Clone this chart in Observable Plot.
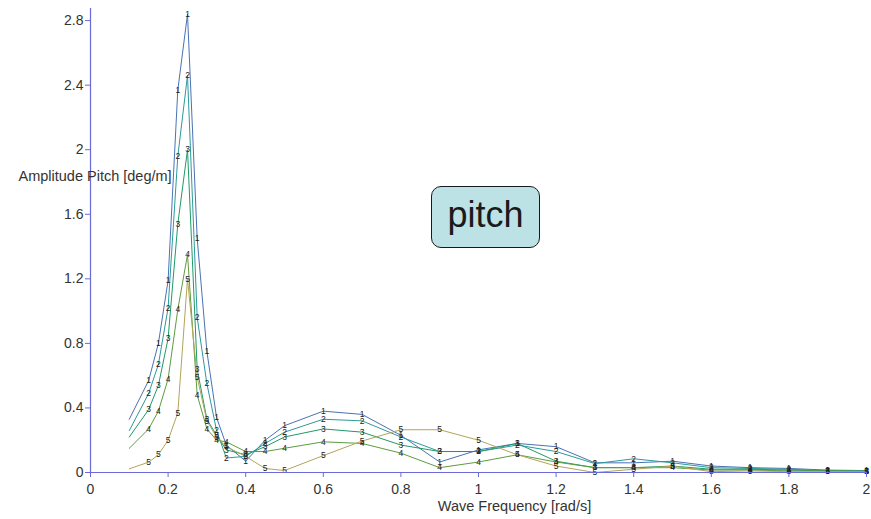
<!DOCTYPE html>
<html>
<head>
<meta charset="utf-8">
<script src="https://cdn.jsdelivr.net/npm/d3@7"></script>
<script src="https://cdn.jsdelivr.net/npm/@observablehq/plot@0.6"></script>
<style>
  html, body { margin: 0; padding: 0; background: #fff; }
  #wrap { position: relative; width: 871px; height: 519px; }
  #box {
    position: absolute; left: 431px; top: 186px; width: 109px; height: 62px;
    background: #bde2e5; border: 1.6px solid #1a1a1a; border-radius: 10px;
    font-family: "Liberation Sans", Arial, sans-serif; font-size: 36px; color: #1a1a1a;
    display: flex; align-items: center; justify-content: center; box-sizing: border-box;
    padding-bottom: 4px;
  }
</style>
</head>
<body>
<div id="wrap"></div>
<script>
const freq = [0.1,0.15,0.175,0.2,0.225,0.25,0.275,0.3,0.325,0.35,0.4,0.45,0.5,0.6,0.7,0.8,0.9,1.0,1.1,1.2,1.3,1.4,1.5,1.6,1.7,1.8,1.9,2.0];
const series1 = [0.33,0.57,0.80,1.19,2.37,2.84,1.45,0.75,0.34,0.17,0.07,0.20,0.29,0.38,0.36,0.23,0.065,0.14,0.18,0.16,0.06,0.06,0.07,0.04,0.03,0.025,0.015,0.012];
const series2 = [0.26,0.49,0.67,1.02,1.96,2.46,0.96,0.55,0.26,0.09,0.10,0.18,0.25,0.33,0.32,0.22,0.13,0.13,0.17,0.13,0.055,0.085,0.06,0.03,0.025,0.02,0.012,0.01];
const series3 = [0.22,0.39,0.54,0.83,1.54,2.00,0.64,0.33,0.23,0.14,0.11,0.16,0.22,0.27,0.25,0.17,0.13,0.13,0.18,0.07,0.03,0.03,0.04,0.02,0.02,0.015,0.01,0.008];
const series4 = [0.15,0.27,0.38,0.58,1.01,1.35,0.48,0.27,0.20,0.19,0.13,0.13,0.15,0.19,0.18,0.12,0.03,0.065,0.11,0.065,0.03,0.03,0.03,0.015,0.015,0.01,0.01,0.008];
const series5 = [0.023,0.064,0.11,0.20,0.37,1.20,0.59,0.32,0.22,0.16,0.10,0.025,0.012,0.105,0.195,0.265,0.265,0.20,0.11,0.04,0.0,0.02,0.04,0.005,0.01,0.005,0.005,0.005];
const seriesNames = ["1","2","3","4","5"];
const seriesColors = ["#4a72b2","#2c9a9c","#1f9a66","#5e9c3e","#b3a45a"];
const xTicks = [0,0.2,0.4,0.6,0.8,1,1.2,1.4,1.6,1.8,2];
const yTicks = [0,0.4,0.8,1.2,1.6,2,2.4,2.8];
const xLabel = "Wave Frequency [rad/s]";
const yLabel = "Amplitude Pitch [deg/m]";
const boxText = "pitch";

const allSeries = [series1, series2, series3, series4, series5];
const data = [];
allSeries.forEach((vals, si) => {
  vals.forEach((v, i) => data.push({f: freq[i], v, s: seriesNames[si], i}));
});
const labelData = data.filter(d => d.i > 0);
const axisColor = "#6a6ad8";
const fmt = d => String(+d.toFixed(1));

const chart = Plot.plot({
  width: 871,
  height: 519,
  marginLeft: 90,
  marginRight: 5,
  marginTop: 8,
  marginBottom: 47,
  style: {fontFamily: "'Liberation Sans', Arial, sans-serif", background: "#fff"},
  x: {domain: [0, 2]},
  y: {domain: [0, 2.875]},
  color: {domain: seriesNames, range: seriesColors},
  marks: [
    Plot.line(data, {x: "f", y: "v", z: "s", stroke: "s", strokeWidth: 1}),
    Plot.text(labelData, {x: "f", y: "v", text: "s", fontSize: 8.5, fill: "#222"}),
    Plot.ruleX([0], {stroke: axisColor, strokeWidth: 1.2}),
    Plot.ruleY([0], {stroke: axisColor, strokeWidth: 1.2}),
    Plot.axisX({ticks: xTicks, tickFormat: fmt, tickSize: 5, stroke: axisColor, fontSize: 14, fill: "#333", label: null, tickPadding: 7}),
    Plot.axisY({ticks: yTicks, tickFormat: fmt, tickSize: 5, stroke: axisColor, fontSize: 14, fill: "#333", label: null, tickPadding: 2}),
    Plot.text([xLabel], {frameAnchor: "bottom", dx: 36, dy: 38, fontSize: 14.5, fill: "#333"}),
    Plot.text([yLabel], {frameAnchor: "top-left", dx: -72, dy: 162, textAnchor: "start", fontSize: 14.5, fill: "#333"})
  ]
});
const wrap = document.getElementById("wrap");
wrap.appendChild(chart);
const box = document.createElement("div");
box.id = "box";
box.textContent = boxText;
wrap.appendChild(box);
</script>
</body>
</html>
